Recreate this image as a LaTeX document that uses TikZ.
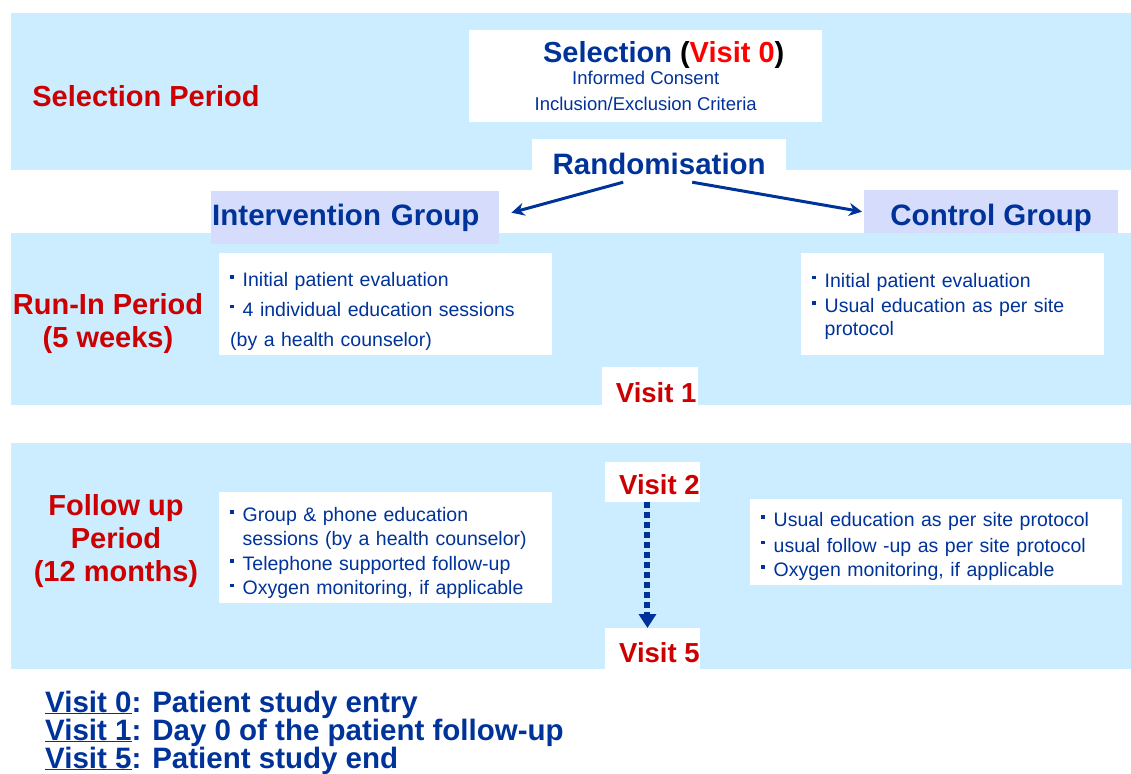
\documentclass[tikz,border=0pt]{standalone}
\usepackage{fontspec}
\setmainfont{Liberation Sans}
\usetikzlibrary{arrows.meta, positioning}

\definecolor{bandblue}{RGB}{204,236,255}
\definecolor{grouplav}{RGB}{214,220,251}
\definecolor{navy}{RGB}{0,51,153}
\definecolor{darkred}{RGB}{204,0,0}

\newcommand{\sqbul}{\rule[0.4em]{3.5pt}{3.5pt}\hspace{9pt}}
\newcommand{\sqind}{\hspace*{12.5pt}}

\begin{document}
\begin{tikzpicture}[x=1pt, y=-1pt,
        whitebox/.style={fill=white, inner sep=0pt, anchor=north west},
        groupbox/.style={fill=grouplav, inner sep=0pt, anchor=north west, text=navy, font=\bfseries\fontsize{29.5}{32}\selectfont},
        period/.style={text=darkred, align=center, font=\bfseries\fontsize{29}{33}\selectfont},
        head/.style={text=navy, font=\bfseries\fontsize{29.5}{32}\selectfont},
        visit/.style={whitebox, text=darkred, font=\bfseries\fontsize{27.5}{30}\selectfont},
        items/.style={whitebox, text=navy, align=left, inner xsep=11pt, font=\fontsize{19.5}{24.5}\selectfont},
        legend/.style={text=navy, anchor=base west, inner sep=0pt, font=\bfseries\fontsize{29.5}{28}\selectfont},
        link/.style={navy, line width=3pt, -{Stealth[length=13pt, width=13pt]}},
        dotlink/.style={navy, line width=6pt, dash pattern=on 6pt off 4pt, -{Triangle[length=14pt, width=17pt]}}
    ]
        \useasboundingbox (0,0) rectangle (1131,773);

        % Period bands
        \fill[bandblue] (11,13) rectangle (1131,170);
        \fill[bandblue] (11,233) rectangle (1131,405);
        \fill[bandblue] (11,443) rectangle (1131,669);

        % Selection period
        \node[period] (selp) at (146,96) {Selection Period};
        \node[whitebox, minimum width=353, minimum height=92, align=center, text=navy, font=\fontsize{18.5}{26}\selectfont] (sel) at (469,30)
            {\raisebox{-4pt}{\bfseries\fontsize{29}{26}\selectfont\hspace*{36pt}Selection {\color{black}(}{\color{red}Visit 0}{\color{black})}}\\
             Informed Consent\\ Inclusion/Exclusion Criteria};
        \node[whitebox, minimum width=254, minimum height=50, head] (rand) at (532,139) {Randomisation};

        % Groups
        \node[groupbox, minimum width=287, minimum height=53, text width=286, align=left, inner xsep=1pt] (intv) at (211,191) {Intervention Group};
        \node[groupbox, minimum width=254, minimum height=43] (ctrl) at (864,190) {\rule{0pt}{34pt}Control Group};

        \draw[link] ([xshift=-36pt, yshift=-18pt]rand.center) -- ([xshift=12pt, yshift=5pt]intv.east);
        \draw[link] ([xshift=33pt, yshift=-18pt]rand.center) -- ([xshift=-2pt]ctrl.west);

        % Run-in period
        \node[period] (runp) at (108,323) {Run-In Period\\(5 weeks)};
        \node[items, minimum width=333, minimum height=102, text width=311] (runi) at (219,253)
            {\rule{0pt}{29pt}\sqbul Initial patient evaluation\\[5pt]
             \sqbul 4 individual education sessions\\[6pt]
             (by a health counselor)};
        \node[items, minimum width=303, minimum height=102, text width=281] (runc) at (801,253)
            {\rule{0pt}{18pt}\sqbul Initial patient evaluation\\[1pt]
             \sqbul Usual education as per site\\[-2pt]
             \sqind protocol};
        \node[visit, minimum width=96, minimum height=50] (v1) at (602,367) {\hspace*{12pt}Visit 1};

        % Follow up period
        \node[period] (folp) at (116,541) {Follow up\\Period\\(12 months)};
        \node[visit, minimum width=93, minimum height=40] (v2) at (605,462) {\hspace*{14pt}\rule{0pt}{25pt}Visit 2};
        \node[visit, minimum width=93, minimum height=48] (v5) at (605,628) {\hspace*{14pt}Visit 5};
        \node[items, minimum width=333, minimum height=111, text width=311] (foli) at (219,492)
            {\rule{0pt}{25pt}\sqbul Group \& phone education\\
             \sqind sessions (by a health counselor)\\
             \sqbul Telephone supported follow-up\\
             \sqbul Oxygen monitoring, if applicable};
        \node[items, minimum width=372, minimum height=86, text width=350] (folc) at (750,499)
            {\rule{0pt}{23pt}\sqbul Usual education as per site protocol\\[1pt]
             \sqbul usual follow -up as per site protocol\\
             \sqbul Oxygen monitoring, if applicable};

        \draw[dotlink] ([xshift=-5pt]v2.south) -- ([xshift=-5pt]v5.north);

        % Legend
        \node[legend] (leg0) at (45,712) {\underline{Visit 0}: Patient study entry};
        \node[legend] (leg1) at (45,740) {\underline{Visit 1}: Day 0 of the patient follow-up};
        \node[legend] (leg5) at (45,768) {\underline{Visit 5}: Patient study end};

    \end{tikzpicture}
\end{document}
